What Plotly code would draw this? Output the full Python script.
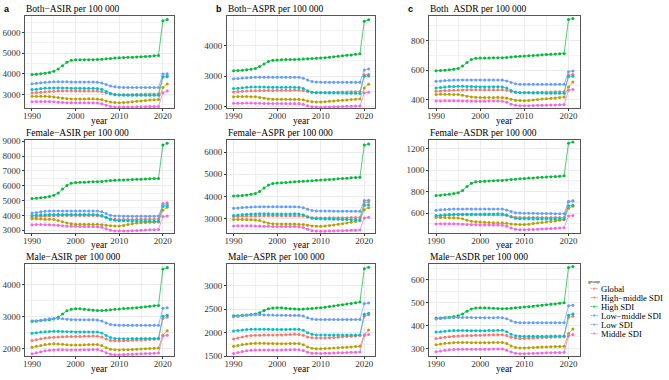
import plotly.graph_objects as go

# ---------------- data ----------------
years = list(range(1990, 2022))
groups = ["Global", "High\u2212middle SDI", "High SDI", "Low\u2212middle SDI", "Low SDI", "Middle SDI"]
x_tick_labels = [1990, 2000, 2010, 2020]
panel_titles = [
    "Both\u2212ASIR per 100 000", "Both\u2212ASPR per 100 000", "Both\u00a0\u00a0ASDR per 100 000",
    "Female\u2212ASIR per 100 000", "Female\u2212ASPR per 100 000", "Female\u2212ASDR per 100 000",
    "Male\u2212ASIR per 100 000", "Male\u2212ASPR per 100 000", "Male\u2212ASDR per 100 000",
]
panel_letters = ["a", "b", "c"]

# ---- a1: Both ASIR ----
a1_global = [3080, 3095, 3115, 3135, 3150, 3160, 3165, 3168, 3170, 3170, 3170, 3172, 3174, 3175, 3175, 3170, 3145, 3080, 3025, 2998, 2990, 2995, 3000, 3005, 3010, 3015, 3020, 3025, 3030, 3035, 3870, 3900]
a1_highmid = [2910, 2915, 2915, 2910, 2900, 2880, 2855, 2820, 2798, 2788, 2785, 2785, 2787, 2790, 2790, 2785, 2755, 2690, 2635, 2608, 2600, 2612, 2630, 2650, 2670, 2690, 2710, 2728, 2742, 2755, 3340, 3510]
a1_high = [3970, 3980, 4000, 4030, 4070, 4130, 4240, 4390, 4560, 4660, 4680, 4685, 4690, 4690, 4690, 4695, 4710, 4730, 4750, 4770, 4780, 4790, 4800, 4810, 4820, 4830, 4845, 4860, 4875, 4890, 6580, 6640]
a1_lowmid = [3240, 3260, 3290, 3310, 3320, 3320, 3320, 3318, 3312, 3305, 3300, 3300, 3300, 3300, 3300, 3290, 3250, 3150, 3050, 2990, 2970, 2965, 2962, 2960, 2960, 2960, 2960, 2960, 2960, 2960, 3850, 3860]
a1_low = [3520, 3540, 3570, 3600, 3610, 3620, 3620, 3620, 3615, 3612, 3610, 3610, 3610, 3610, 3610, 3600, 3560, 3480, 3410, 3370, 3350, 3345, 3342, 3340, 3340, 3340, 3340, 3340, 3340, 3340, 3990, 4010]
a1_middle = [2650, 2655, 2660, 2660, 2655, 2645, 2630, 2612, 2600, 2595, 2595, 2595, 2595, 2597, 2597, 2592, 2555, 2480, 2420, 2395, 2390, 2392, 2395, 2398, 2402, 2406, 2410, 2414, 2417, 2420, 3090, 3170]

# ---- b1: Both ASPR ----
b1_global = [2480, 2490, 2500, 2510, 2516, 2520, 2523, 2526, 2528, 2530, 2532, 2534, 2536, 2538, 2540, 2538, 2522, 2490, 2468, 2462, 2460, 2462, 2465, 2468, 2471, 2474, 2478, 2482, 2486, 2490, 3040, 3060]
b1_highmid = [2320, 2325, 2327, 2326, 2323, 2318, 2300, 2270, 2248, 2238, 2235, 2235, 2236, 2238, 2240, 2238, 2220, 2185, 2160, 2152, 2150, 2158, 2170, 2182, 2194, 2205, 2216, 2228, 2239, 2250, 2610, 2730]
b1_high = [3175, 3180, 3190, 3205, 3225, 3250, 3310, 3400, 3480, 3520, 3530, 3535, 3540, 3543, 3546, 3550, 3557, 3565, 3575, 3583, 3590, 3605, 3620, 3635, 3650, 3665, 3680, 3695, 3712, 3730, 4800, 4850]
b1_lowmid = [2590, 2603, 2618, 2630, 2637, 2640, 2640, 2638, 2635, 2632, 2630, 2630, 2630, 2632, 2633, 2628, 2595, 2520, 2468, 2453, 2450, 2448, 2446, 2444, 2442, 2440, 2438, 2435, 2432, 2430, 2995, 3005]
b1_low = [2910, 2920, 2935, 2948, 2956, 2960, 2962, 2962, 2962, 2962, 2962, 2962, 2962, 2962, 2962, 2958, 2930, 2870, 2820, 2805, 2800, 2798, 2797, 2797, 2797, 2797, 2797, 2798, 2799, 2800, 3200, 3230]
b1_middle = [2105, 2108, 2111, 2113, 2113, 2110, 2106, 2102, 2099, 2097, 2096, 2097, 2098, 2100, 2101, 2098, 2075, 2025, 1992, 1982, 1980, 1982, 1986, 1990, 1995, 2000, 2005, 2010, 2015, 2020, 2450, 2470]

# ---- c1: Both ASDR ----
c1_global = [459, 461, 463, 465, 466, 467, 467, 468, 468, 468, 468, 468, 469, 469, 469, 469, 465, 457, 452, 450, 450, 451, 451, 452, 453, 453, 454, 455, 455, 456, 568, 571]
c1_highmid = [437, 438, 438, 438, 437, 436, 432, 425, 420, 418, 417, 417, 417, 417, 418, 417, 413, 405, 398, 396, 395, 397, 400, 403, 406, 409, 412, 414, 417, 420, 487, 520]
c1_high = [597, 598, 600, 603, 607, 612, 628, 652, 672, 680, 682, 682, 682, 683, 683, 683, 686, 689, 692, 694, 695, 697, 699, 701, 703, 705, 707, 709, 710, 712, 940, 948]
c1_lowmid = [481, 484, 487, 490, 491, 492, 492, 491, 490, 489, 488, 488, 488, 489, 489, 488, 480, 464, 453, 449, 448, 448, 447, 447, 447, 446, 446, 446, 445, 445, 558, 560]
c1_low = [525, 528, 531, 533, 534, 535, 535, 535, 535, 535, 535, 535, 535, 535, 535, 534, 528, 517, 509, 506, 505, 505, 505, 505, 505, 505, 505, 505, 505, 505, 590, 595]
c1_middle = [393, 394, 395, 395, 395, 395, 394, 393, 392, 392, 392, 392, 393, 393, 393, 392, 385, 372, 364, 362, 361, 362, 363, 364, 365, 365, 366, 367, 368, 369, 466, 470]

# ---- a2: Female ASIR ----
a2_global = [3880, 3905, 3935, 3960, 3972, 3978, 3982, 3985, 3985, 3985, 3985, 3985, 3987, 3988, 3988, 3980, 3940, 3850, 3770, 3732, 3720, 3722, 3725, 3728, 3731, 3734, 3738, 3742, 3746, 3750, 4800, 4850]
a2_highmid = [3770, 3765, 3755, 3745, 3735, 3715, 3660, 3570, 3480, 3430, 3410, 3405, 3402, 3400, 3400, 3395, 3375, 3335, 3300, 3285, 3290, 3320, 3380, 3440, 3480, 3505, 3520, 3530, 3540, 3550, 4350, 4540]
a2_high = [5130, 5150, 5180, 5220, 5270, 5350, 5500, 5780, 6020, 6160, 6220, 6230, 6240, 6250, 6260, 6270, 6290, 6320, 6345, 6365, 6380, 6392, 6404, 6416, 6428, 6440, 6452, 6464, 6477, 6490, 8750, 8860]
a2_lowmid = [3990, 4010, 4035, 4050, 4058, 4060, 4062, 4062, 4060, 4058, 4056, 4055, 4055, 4055, 4055, 4045, 3990, 3860, 3730, 3665, 3640, 3635, 3630, 3625, 3620, 3615, 3610, 3607, 3604, 3600, 4600, 4650]
a2_low = [4160, 4200, 4250, 4280, 4295, 4300, 4300, 4300, 4300, 4300, 4300, 4300, 4300, 4300, 4300, 4290, 4240, 4120, 4010, 3965, 3950, 3948, 3946, 3945, 3945, 3945, 3945, 3947, 3948, 3950, 4690, 4720]
a2_middle = [3375, 3378, 3378, 3375, 3370, 3360, 3335, 3300, 3275, 3265, 3260, 3255, 3250, 3248, 3245, 3238, 3200, 3100, 3000, 2955, 2940, 2945, 2955, 2968, 2982, 2996, 3010, 3024, 3037, 3050, 3920, 3950]

# ---- b2: Female ASPR ----
b2_global = [3100, 3108, 3116, 3123, 3127, 3130, 3132, 3133, 3134, 3135, 3136, 3137, 3138, 3139, 3140, 3138, 3120, 3080, 3052, 3043, 3040, 3041, 3042, 3044, 3046, 3048, 3051, 3054, 3057, 3060, 3730, 3750]
b2_highmid = [2970, 2970, 2968, 2963, 2957, 2948, 2920, 2860, 2805, 2780, 2770, 2766, 2764, 2762, 2762, 2758, 2740, 2705, 2675, 2662, 2660, 2672, 2695, 2725, 2752, 2780, 2815, 2850, 2882, 2910, 3410, 3500]
b2_high = [4020, 4030, 4045, 4070, 4100, 4140, 4230, 4380, 4520, 4590, 4610, 4620, 4635, 4648, 4660, 4670, 4683, 4697, 4712, 4727, 4740, 4754, 4768, 4782, 4796, 4810, 4825, 4840, 4855, 4870, 6320, 6360]
b2_lowmid = [3150, 3168, 3190, 3207, 3216, 3220, 3222, 3222, 3221, 3220, 3218, 3218, 3218, 3220, 3222, 3218, 3180, 3095, 3030, 3006, 3000, 2994, 2988, 2983, 2978, 2972, 2967, 2961, 2956, 2950, 3610, 3620]
b2_low = [3470, 3485, 3505, 3522, 3533, 3538, 3540, 3540, 3540, 3540, 3540, 3540, 3540, 3540, 3540, 3535, 3500, 3430, 3375, 3355, 3350, 3348, 3346, 3344, 3342, 3341, 3340, 3340, 3340, 3340, 3820, 3830]
b2_middle = [2680, 2682, 2684, 2684, 2682, 2680, 2675, 2668, 2662, 2658, 2656, 2655, 2654, 2653, 2653, 2648, 2610, 2530, 2468, 2446, 2440, 2443, 2448, 2454, 2460, 2467, 2474, 2481, 2490, 2500, 3040, 3070]

# ---- c2: Female ASDR ----
c2_global = [573, 577, 580, 583, 584, 585, 585, 585, 585, 585, 585, 585, 585, 585, 585, 584, 578, 568, 562, 560, 560, 560, 560, 560, 560, 560, 560, 560, 560, 560, 707, 715]
c2_highmid = [560, 560, 559, 558, 557, 555, 548, 535, 524, 520, 518, 516, 514, 512, 511, 510, 506, 500, 496, 494, 494, 498, 503, 508, 513, 518, 523, 528, 534, 539, 645, 664]
c2_high = [766, 768, 771, 776, 783, 791, 812, 848, 880, 893, 896, 898, 900, 902, 904, 905, 909, 913, 917, 921, 924, 927, 929, 932, 935, 937, 940, 942, 945, 948, 1251, 1264]
c2_lowmid = [578, 582, 586, 589, 590, 591, 591, 591, 591, 591, 591, 592, 592, 593, 594, 593, 584, 566, 553, 549, 548, 548, 547, 547, 547, 546, 546, 546, 545, 545, 669, 675]
c2_low = [627, 631, 635, 637, 638, 639, 639, 639, 639, 639, 639, 639, 639, 639, 639, 638, 630, 615, 605, 601, 600, 599, 599, 598, 598, 597, 597, 596, 596, 595, 709, 713]
c2_middle = [500, 501, 501, 501, 501, 500, 498, 495, 493, 492, 491, 490, 490, 489, 489, 488, 479, 462, 450, 446, 445, 447, 449, 451, 453, 455, 457, 459, 462, 464, 573, 578]

# ---- a3: Male ASIR ----
a3_global = [2260, 2285, 2315, 2340, 2355, 2365, 2373, 2380, 2385, 2388, 2390, 2392, 2395, 2398, 2400, 2398, 2370, 2310, 2265, 2252, 2250, 2255, 2262, 2268, 2275, 2281, 2288, 2295, 2302, 2310, 2950, 2990]
a3_highmid = [2050, 2080, 2110, 2135, 2150, 2158, 2155, 2145, 2132, 2124, 2120, 2122, 2128, 2135, 2140, 2138, 2105, 2040, 1990, 1975, 1970, 1972, 1978, 1985, 1992, 1999, 2006, 2013, 2021, 2030, 2430, 2570]
a3_high = [2870, 2875, 2885, 2900, 2915, 2935, 2990, 3090, 3190, 3240, 3258, 3255, 3240, 3225, 3210, 3200, 3200, 3210, 3225, 3240, 3250, 3260, 3270, 3280, 3290, 3300, 3315, 3330, 3345, 3360, 4500, 4540]
a3_lowmid = [2490, 2505, 2525, 2540, 2548, 2552, 2550, 2545, 2540, 2535, 2530, 2528, 2528, 2530, 2532, 2528, 2495, 2420, 2355, 2328, 2320, 2320, 2321, 2322, 2323, 2324, 2325, 2327, 2328, 2330, 3020, 3050]
a3_low = [2850, 2870, 2895, 2920, 2940, 2950, 2950, 2940, 2925, 2915, 2910, 2910, 2910, 2910, 2910, 2905, 2875, 2810, 2760, 2745, 2740, 2738, 2737, 2736, 2736, 2736, 2737, 2738, 2739, 2740, 3270, 3290]
a3_middle = [1850, 1880, 1915, 1945, 1962, 1970, 1972, 1972, 1970, 1968, 1968, 1970, 1974, 1978, 1982, 1980, 1945, 1880, 1835, 1822, 1820, 1824, 1830, 1836, 1842, 1848, 1854, 1860, 1865, 1870, 2400, 2430]

# ---- b3: Male ASPR ----
b3_global = [1865, 1888, 1910, 1927, 1938, 1944, 1946, 1948, 1949, 1950, 1951, 1953, 1956, 1960, 1964, 1963, 1945, 1910, 1890, 1886, 1885, 1888, 1893, 1899, 1905, 1911, 1917, 1923, 1931, 1940, 2350, 2380]
b3_highmid = [1710, 1728, 1747, 1762, 1771, 1775, 1776, 1774, 1771, 1768, 1766, 1766, 1767, 1769, 1771, 1769, 1745, 1697, 1668, 1661, 1660, 1663, 1668, 1674, 1680, 1686, 1692, 1698, 1704, 1710, 1955, 2055]
b3_high = [2360, 2362, 2368, 2376, 2386, 2398, 2425, 2470, 2510, 2525, 2530, 2528, 2520, 2510, 2503, 2500, 2502, 2508, 2516, 2524, 2530, 2542, 2555, 2568, 2582, 2595, 2608, 2622, 2636, 2650, 3360, 3390]
b3_lowmid = [2035, 2046, 2058, 2068, 2073, 2075, 2075, 2073, 2071, 2070, 2069, 2069, 2070, 2072, 2074, 2072, 2050, 2000, 1965, 1953, 1950, 1950, 1950, 1950, 1950, 1950, 1950, 1950, 1950, 1950, 2390, 2410]
b3_low = [2340, 2350, 2362, 2372, 2378, 2380, 2380, 2378, 2375, 2373, 2372, 2372, 2372, 2372, 2372, 2368, 2352, 2315, 2290, 2282, 2280, 2279, 2278, 2278, 2278, 2278, 2278, 2279, 2279, 2280, 2620, 2630]
b3_middle = [1560, 1578, 1598, 1614, 1625, 1630, 1632, 1633, 1633, 1633, 1633, 1634, 1636, 1638, 1640, 1638, 1620, 1585, 1565, 1561, 1560, 1562, 1565, 1568, 1572, 1575, 1578, 1582, 1586, 1590, 1940, 1960]

# ---- c3: Male ASDR ----
c3_global = [343, 346, 349, 351, 353, 354, 355, 356, 356, 357, 357, 358, 358, 359, 359, 360, 356, 349, 345, 343, 343, 344, 345, 346, 347, 348, 349, 350, 350, 351, 435, 440]
c3_highmid = [316, 319, 322, 324, 325, 326, 326, 326, 325, 325, 325, 325, 325, 326, 326, 326, 321, 311, 304, 302, 302, 303, 304, 305, 306, 306, 307, 308, 308, 309, 365, 385]
c3_high = [432, 433, 434, 436, 439, 442, 450, 462, 472, 476, 477, 477, 476, 475, 474, 473, 474, 475, 477, 478, 480, 482, 484, 486, 488, 490, 492, 494, 497, 499, 652, 657]
c3_lowmid = [371, 373, 375, 377, 378, 378, 378, 378, 377, 377, 377, 377, 378, 378, 379, 379, 373, 362, 355, 353, 353, 353, 353, 353, 353, 353, 354, 354, 354, 354, 445, 450]
c3_low = [428, 430, 432, 434, 435, 435, 435, 435, 435, 434, 434, 434, 434, 434, 435, 434, 429, 420, 414, 412, 412, 412, 412, 412, 412, 412, 412, 412, 412, 412, 486, 488]
c3_middle = [286, 289, 292, 294, 295, 296, 296, 296, 296, 296, 296, 296, 296, 297, 297, 297, 292, 284, 279, 277, 277, 278, 279, 279, 280, 281, 281, 282, 282, 283, 354, 361]

panel_series = [
    [a1_global, a1_highmid, a1_high, a1_lowmid, a1_low, a1_middle],
    [b1_global, b1_highmid, b1_high, b1_lowmid, b1_low, b1_middle],
    [c1_global, c1_highmid, c1_high, c1_lowmid, c1_low, c1_middle],
    [a2_global, a2_highmid, a2_high, a2_lowmid, a2_low, a2_middle],
    [b2_global, b2_highmid, b2_high, b2_lowmid, b2_low, b2_middle],
    [c2_global, c2_highmid, c2_high, c2_lowmid, c2_low, c2_middle],
    [a3_global, a3_highmid, a3_high, a3_lowmid, a3_low, a3_middle],
    [b3_global, b3_highmid, b3_high, b3_lowmid, b3_low, b3_middle],
    [c3_global, c3_highmid, c3_high, c3_lowmid, c3_low, c3_middle],
]

# ---------------- style / layout ----------------
W, H = 669, 380
colors = ["#F8766D", "#B79F00", "#00BA38", "#00BFC4", "#619CFF", "#F564E3"]
SERIF = "Liberation Serif"
col_px = [(23.3, 172.5), (225.5, 374.5), (428.5, 579.5)]
row_px = [(12, 107), (139.5, 234.5), (266, 361)]
y_ranges = [[2323, 6819], [1936, 4981], [343, 966],
            [2816, 9066], [2364, 6531], [416, 1280],
            [1765, 4662], [1495, 3465], [265, 669]]
y_dticks = [1000, 1000, 200, 1000, 1000, 200, 1000, 500, 100]
x_range = [1988.45, 2022.55]

def px_x(v):
    return v / W

def px_y(v):
    return 1 - v / H

fig = go.Figure()
layout = dict(
    width=W, height=H,
    margin=dict(l=0, r=0, t=0, b=0),
    paper_bgcolor="white", plot_bgcolor="rgba(0,0,0,0)",
    showlegend=False,
    font=dict(family=SERIF, size=9, color="#000000"),
)
annotations = []

for r in range(3):
    for c in range(3):
        k = r * 3 + c + 1
        xs = "" if k == 1 else str(k)
        xa, ya = "x" + xs, "y" + xs
        x0, x1 = col_px[c]
        y0, y1 = row_px[r]
        grid = dict(showgrid=True, gridcolor="#EBEBEB", gridwidth=0.8, zeroline=False,
                    showline=True, mirror=True, linecolor="#555555", linewidth=0.7,
                    ticks="outside", ticklen=2, tickwidth=0.6, tickcolor="#333333",
                    tickfont=dict(family=SERIF, size=9, color="#333333"), fixedrange=True)
        layout["xaxis" + xs] = dict(
            domain=[px_x(x0), px_x(x1)], range=x_range, anchor=ya,
            tickmode="array", tickvals=x_tick_labels, ticktext=[str(v) for v in x_tick_labels],
            ticklabelstandoff=-3,
            minor=dict(dtick=5, tick0=1990, showgrid=True, gridcolor="#F2F2F2", gridwidth=0.5, ticks=""),
            **grid)
        layout["yaxis" + xs] = dict(
            domain=[px_y(y1), px_y(y0)], range=y_ranges[k - 1], anchor=xa,
            tickmode="linear", tick0=0, dtick=y_dticks[k - 1],
            minor=dict(dtick=y_dticks[k - 1] / 2, showgrid=True, gridcolor="#F2F2F2", gridwidth=0.5, ticks=""),
            **grid)
        for gi, vals in enumerate(panel_series[k - 1]):
            fig.add_trace(go.Scatter(
                x=years, y=vals, xaxis=xa, yaxis=ya, mode="lines+markers",
                name=groups[gi], line=dict(color=colors[gi], width=0.7),
                marker=dict(color=colors[gi], size=3.0), hoverinfo="skip"))
        annotations.append(dict(x=px_x(x0), y=px_y(y0 - 7), xref="paper", yref="paper",
                                text=panel_titles[k - 1], showarrow=False, xanchor="left",
                                yanchor="middle", borderpad=0,
                                font=dict(family=SERIF, size=9.5, color="#000")))
        annotations.append(dict(x=px_x((x0 + x1) / 2), y=px_y(y1 + 12.5), xref="paper", yref="paper",
                                text="year", showarrow=False, xanchor="center",
                                yanchor="middle", borderpad=0,
                                font=dict(family=SERIF, size=9.5, color="#000")))

letter_x = [5, 218, 410]
for i, L in enumerate(panel_letters):
    annotations.append(dict(x=px_x(letter_x[i]), y=px_y(5.5), xref="paper", yref="paper",
                            text="<b>%s</b>" % L, showarrow=False, xanchor="center", yanchor="middle",
                            borderpad=0, font=dict(family="Liberation Sans", size=9, color="#000")))

# custom legend drawn on a pixel-space overlay axis
layout["xaxis10"] = dict(domain=[0, 1], range=[0, W], visible=False, fixedrange=True, anchor="y10")
layout["yaxis10"] = dict(domain=[0, 1], range=[H, 0], visible=False, fixedrange=True, anchor="x10")
annotations.append(dict(x=587, y=284, xref="x10", yref="y10", text="group", showarrow=False,
                        xanchor="left", yanchor="middle", borderpad=0,
                        font=dict(family=SERIF, size=5, color="#000")))
for gi, g in enumerate(groups):
    ly = 291.5 + 9.2 * gi
    fig.add_trace(go.Scatter(x=[590.5, 594, 597.5], y=[ly, ly, ly], xaxis="x10", yaxis="y10",
                             mode="lines+markers", line=dict(color=colors[gi], width=0.7),
                             marker=dict(color=colors[gi], size=[0, 3.2, 0]), hoverinfo="skip",
                             cliponaxis=False))
    annotations.append(dict(x=600, y=ly, xref="x10", yref="y10", text=g, showarrow=False,
                            xanchor="left", yanchor="middle", borderpad=0,
                            font=dict(family=SERIF, size=8.6, color="#000")))

layout["annotations"] = annotations
fig.update_layout(**layout)
fig.write_html("out.html", config={"displayModeBar": False},
               post_script="document.body.style.margin='0px';document.body.style.overflow='hidden';")
